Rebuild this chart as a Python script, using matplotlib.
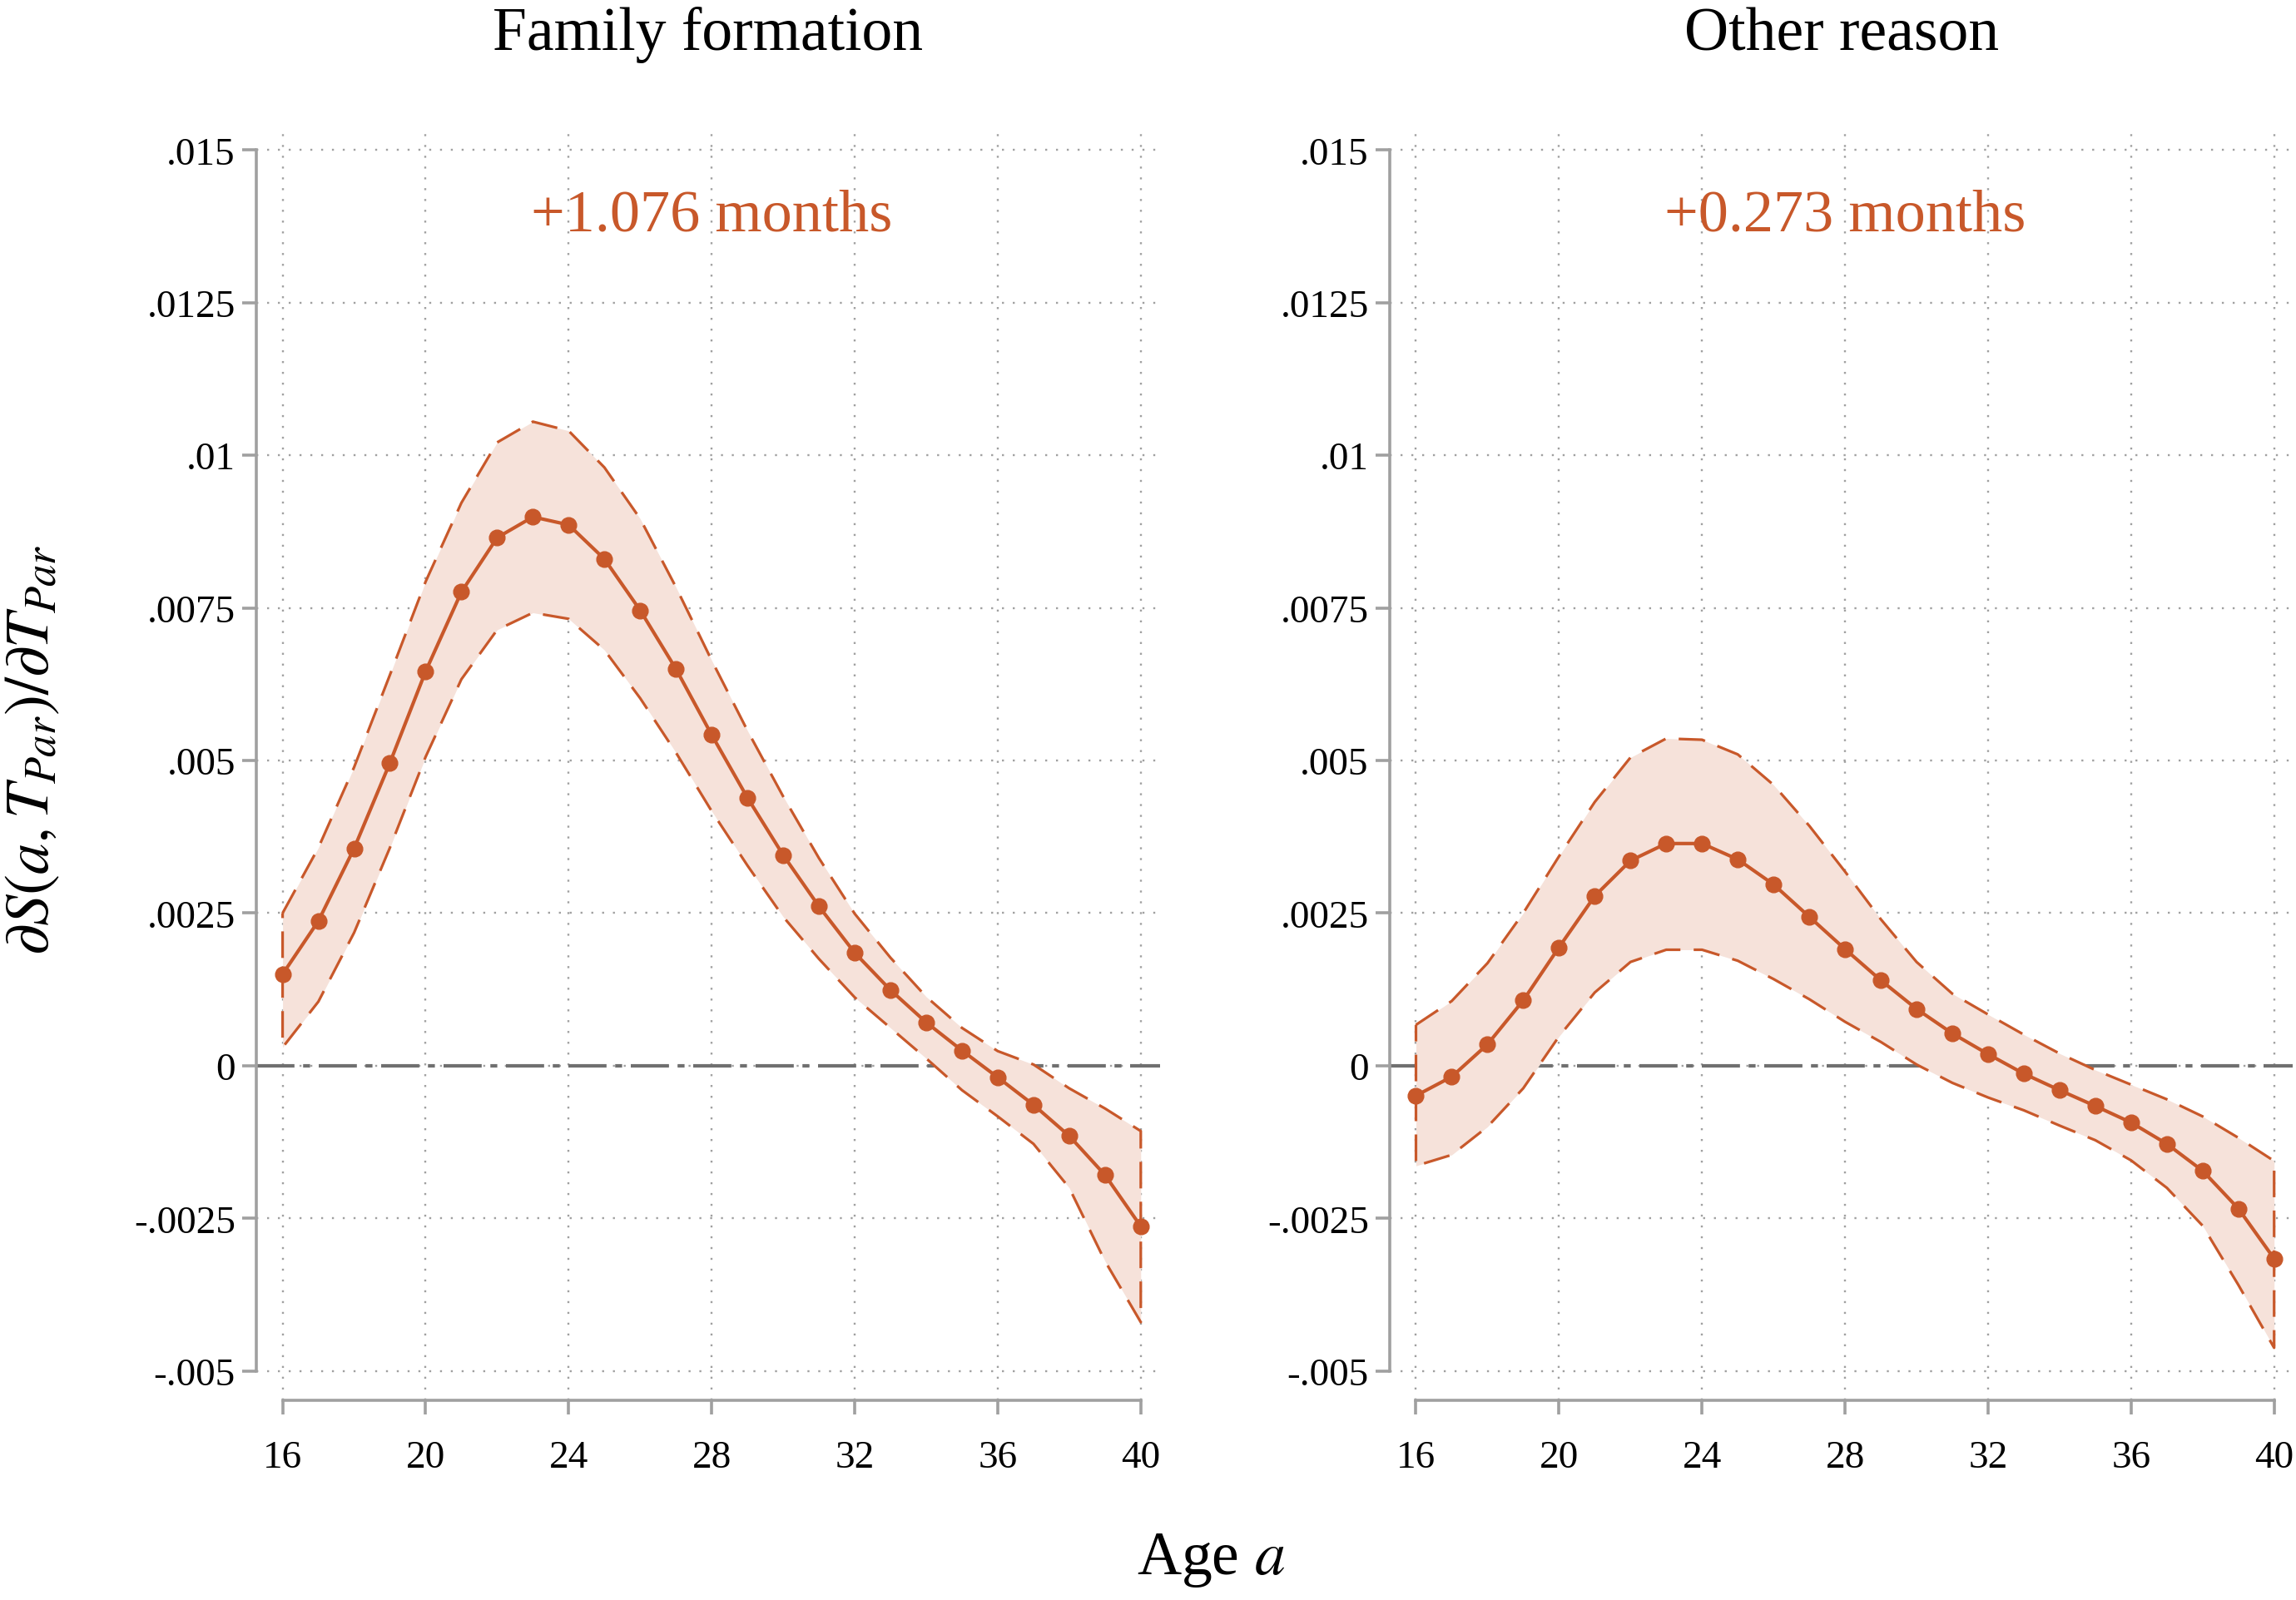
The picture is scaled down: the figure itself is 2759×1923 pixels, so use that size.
import matplotlib
matplotlib.use('Agg')
import matplotlib.pyplot as plt
import numpy as np

plt.rcParams['font.family'] = ['Liberation Serif', 'DejaVu Serif']
plt.rcParams['mathtext.fontset'] = 'stix'

ages = list(range(16, 41))

# family formation
ff_est = [0.00150, 0.00237, 0.00356, 0.00496, 0.00646, 0.00776, 0.00865, 0.00899, 0.00886, 0.00830,
          0.00746, 0.00650, 0.00542, 0.00439, 0.00345, 0.00261, 0.00185, 0.00124, 0.00071, 0.00025,
          -0.00019, -0.00064, -0.00115, -0.00179, -0.00263]
ff_hi = [0.00250, 0.00357, 0.00489, 0.00640, 0.00793, 0.00922, 0.01021, 0.01055, 0.01040, 0.00980,
         0.00896, 0.00784, 0.00664, 0.00549, 0.00441, 0.00340, 0.00249, 0.00177, 0.00113, 0.00062,
         0.00024, 0.00002, -0.00037, -0.00070, -0.00107]
ff_lo = [0.00030, 0.00105, 0.00218, 0.00357, 0.00506, 0.00633, 0.00714, 0.00742, 0.00732, 0.00681,
         0.00602, 0.00513, 0.00417, 0.00328, 0.00244, 0.00175, 0.00112, 0.00062, 0.00012, -0.00040,
         -0.00083, -0.00128, -0.00200, -0.00320, -0.00420]

# other reason
or_est = [-0.00049, -0.00018, 0.00035, 0.00107, 0.00194, 0.00278, 0.00336, 0.00364, 0.00364, 0.00338,
          0.00297, 0.00244, 0.00191, 0.00140, 0.00093, 0.00053, 0.00019, -0.00013, -0.00040, -0.00066,
          -0.00093, -0.00128, -0.00172, -0.00234, -0.00316]
or_hi = [0.00067, 0.00106, 0.00168, 0.00250, 0.00343, 0.00432, 0.00505, 0.00536, 0.00534, 0.00510,
         0.00460, 0.00393, 0.00318, 0.00240, 0.00170, 0.00118, 0.00084, 0.00051, 0.00020, -0.00007,
         -0.00031, -0.00055, -0.00083, -0.00118, -0.00156]
or_lo = [-0.00164, -0.00146, -0.00100, -0.00037, 0.00048, 0.00120, 0.00170, 0.00190, 0.00190, 0.00172,
         0.00142, 0.00109, 0.00072, 0.00039, 0.00002, -0.00028, -0.00052, -0.00073, -0.00098, -0.00122,
         -0.00155, -0.00200, -0.00262, -0.00359, -0.00462]

titles = ['Family formation', 'Other reason']
notes = ['+1.076 months', '+0.273 months']
yticks = [-0.005, -0.0025, 0, 0.0025, 0.005, 0.0075, 0.01, 0.0125, 0.015]
yticklabels = ['-.005', '-.0025', '0', '.0025', '.005', '.0075', '.01', '.0125', '.015']
xticks = [16, 20, 24, 28, 32, 36, 40]

ORANGE = '#C8582A'
BAND = '#F6E2DA'
GREY = '#A0A0A0'

fig = plt.figure(figsize=(27.59, 19.24), dpi=100)
W, H = 1568.0, 1093.4
ax1 = fig.add_axes([175 / W, 1 - 957 / H, 617 / W, (957 - 88) / H])
ax2 = fig.add_axes([949 / W, 1 - 957 / H, 617 / W, (957 - 88) / H])

series = [(ff_est, ff_hi, ff_lo), (or_est, or_hi, or_lo)]
for ax, (est, hi, lo), title, note in zip([ax1, ax2], series, titles, notes):
    ax.set_xlim(15.263, 40.53)
    ax.set_ylim(-0.00548, 0.01536)
    ax.set_xticks(xticks)
    ax.set_yticks(yticks)
    ax.set_yticklabels(yticklabels)
    ax.grid(True, color=GREY, linestyle=(0, (1, 4.5)), linewidth=1.7)
    ax.set_axisbelow(True)
    for s in ['top', 'right']:
        ax.spines[s].set_visible(False)
    for s in ['left', 'bottom']:
        ax.spines[s].set_color(GREY)
        ax.spines[s].set_linewidth(2.6)
    ax.spines['left'].set_bounds(-0.005, 0.015)
    ax.spines['bottom'].set_bounds(16, 40)
    ax.tick_params(axis='both', colors=GREY, length=12, width=2.6, labelsize=34,
                   labelcolor='black')
    ax.tick_params(axis='x', pad=22)
    ax.tick_params(axis='y', pad=6)

    ax.axhline(0, color='#707070', linewidth=3.0, linestyle=(0, (11, 2.5, 2, 2.5)), zorder=2)

    ax.fill_between(ages, lo, hi, color=BAND, linewidth=0, zorder=3)
    edge_x = ages + ages[::-1] + [ages[0]]
    edge_y = list(hi) + list(lo)[::-1] + [hi[0]]
    ax.plot(edge_x, edge_y, color=ORANGE, linewidth=2.3, linestyle=(0, (10, 5)), zorder=4)
    ax.plot(ages, est, color=ORANGE, linewidth=3.0, marker='o', markersize=13.5, zorder=5,
            clip_on=False)

    ax.text(28, 0.01393, note, color=ORANGE, fontsize=52, ha='center', va='center')
    ax.set_title(title, fontsize=53, pad=68)

fig.text(22 / W, 1 - 512 / H, r'$\partial S(a,T_{Par})/\partial T_{Par}$', fontsize=54,
         rotation=90, ha='center', va='center')
fig.text(827 / W, 1 - 1066 / H, r'Age $a$', fontsize=53, ha='center', va='center')

fig.savefig('out.png', dpi=100)
